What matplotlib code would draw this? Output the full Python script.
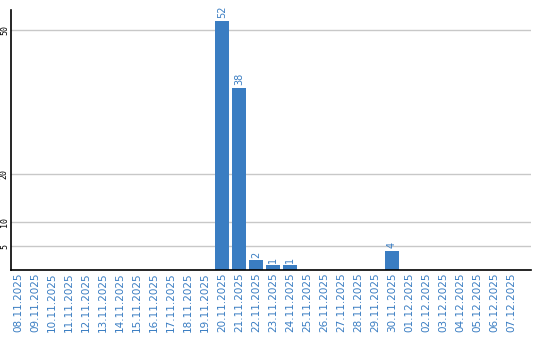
import matplotlib
matplotlib.use("Agg")
import matplotlib.pyplot as plt

dates = [
    "08.11.2025", "09.11.2025", "10.11.2025", "11.11.2025", "12.11.2025",
    "13.11.2025", "14.11.2025", "15.11.2025", "16.11.2025", "17.11.2025",
    "18.11.2025", "19.11.2025", "20.11.2025", "21.11.2025", "22.11.2025",
    "23.11.2025", "24.11.2025", "25.11.2025", "26.11.2025", "27.11.2025",
    "28.11.2025", "29.11.2025", "30.11.2025", "01.12.2025", "02.12.2025",
    "03.12.2025", "04.12.2025", "05.12.2025", "06.12.2025", "07.12.2025",
]
counts = [0, 0, 0, 0, 0, 0, 0, 0, 0, 0, 0, 0, 52, 38, 2, 1, 1,
          0, 0, 0, 0, 0, 4, 0, 0, 0, 0, 0, 0, 0]
y_ticks = [5, 10, 20, 50]

blue = "#3a7dc2"

fig = plt.figure(figsize=(5.4, 3.4), dpi=100)
ax = fig.add_axes([11 / 540, 70 / 340, 520 / 540, 260 / 340])

x = list(range(len(dates)))
ax.bar(x, counts, width=0.82, color=blue, zorder=3)

for xi, c in zip(x, counts):
    if c > 0:
        ax.text(xi, c + 0.5, str(c), rotation=90, ha="center", va="bottom",
                color=blue, fontsize=7)

ax.set_xlim(-0.41, 30.18)
ax.set_ylim(0, 54.2)
ax.set_yticks(y_ticks)
ax.set_yticklabels([str(t) for t in y_ticks], rotation=90, va="center",
                   fontsize=6, family="DejaVu Sans Mono")
ax.set_xticks(x)
ax.set_xticklabels(dates, rotation=90, color=blue, fontsize=7.5)
ax.tick_params(length=0, pad=2)
ax.tick_params(axis="y", pad=1.5)

ax.grid(axis="y", color="#c8c8c8", linewidth=1, zorder=0)
for s in ["top", "right"]:
    ax.spines[s].set_visible(False)
for s in ["left", "bottom"]:
    ax.spines[s].set_color("black")
    ax.spines[s].set_linewidth(1.2)
    ax.spines[s].set_zorder(4)

fig.savefig("out.png", dpi=100)
